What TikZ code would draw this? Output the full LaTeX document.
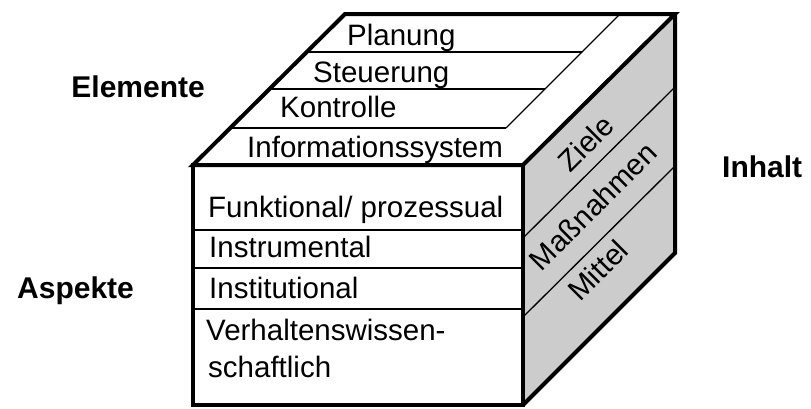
\documentclass[tikz,border=0pt]{standalone}
\usepackage{fontspec}
\setmainfont{Liberation Sans}
\usetikzlibrary{calc}

\begin{document}
\begin{tikzpicture}[
    x=1pt, y=-1pt,
    edge/.style={line width=4pt, line join=miter},
    divider/.style={line width=1.3pt},
    lbl/.style={inner sep=0pt, font=\fontsize{29.5}{34}\selectfont},
    head/.style={inner sep=0pt, font=\fontsize{30}{34}\selectfont\bfseries},
    side/.style={lbl, rotate=45}
  ]
    \useasboundingbox (0,0) rectangle (811,408);

    % cube corners
    \coordinate (ftl) at (193,165);
    \coordinate (ftr) at (523,165);
    \coordinate (fbl) at (193,405);
    \coordinate (fbr) at (523,405);
    \coordinate (btl) at (345,14);
    \coordinate (btr) at (675,14);
    \coordinate (bbr) at (675,253);

    % faces
    \fill[white] (ftl) -- (btl) -- (btr) -- (ftr) -- cycle;
    \fill[black!20] (ftr) -- (btr) -- (bbr) -- (fbr) -- cycle;
    \fill[white] (ftl) rectangle (fbr);

    % top face stripes
    \draw[divider] (307,52) -- (582,52);
    \draw[divider] (270,89) -- (545,89);
    \draw[divider] (231,128) -- (506,128);
    \draw[divider] (620,14) -- (506,128);

    % front face stripes
    \draw[divider] (193,230) -- (523,230);
    \draw[divider] (193,268) -- (523,268);
    \draw[divider] (193,309) -- (523,309);

    % side face stripes
    \draw[divider] (523,238) -- (675,87);
    \draw[divider] (523,317) -- (675,166);

    % outline
    \draw[edge] (ftl) -- (btl) -- (btr) -- (ftr) -- cycle;
    \draw[edge] (ftl) rectangle (fbr);
    \draw[edge] (btr) -- (bbr) -- (fbr);

    % top labels
    \node[lbl, anchor=base west] (plan) at (347,45) {Planung};
    \node[lbl, anchor=base west] (steu) at (313,82) {Steuerung};
    \node[lbl, anchor=base west] (kontr) at (280,117) {Kontrolle};
    \node[lbl, anchor=base west] (info) at (247,157) {Informationssystem};

    % front labels
    \node[lbl, anchor=base west] (funk) at (208,217) {Funktional/ prozessual};
    \node[lbl, anchor=base west] (instr) at (209,257) {Instrumental};
    \node[lbl, anchor=base west] (inst) at (209,298) {Institutional};
    \node[lbl, anchor=base west] (verh) at (206,340) {Verhaltenswissen-};
    \node[lbl, anchor=base west] (schaft) at (208,377) {schaftlich};

    % side labels
    \node[side] (ziele) at (586,143) {Ziele};
    \node[side] (mass) at (593,206) {Maßnahmen};
    \node[side] (mitt) at (598,270) {Mittel};

    % headings
    \node[head, anchor=base east] (elem) at (205,97) {Elemente};
    \node[head, anchor=base west] (asp) at (17,298) {Aspekte};
    \node[head, anchor=base west] (inh) at (722,177) {Inhalt};
\end{tikzpicture}
\end{document}
